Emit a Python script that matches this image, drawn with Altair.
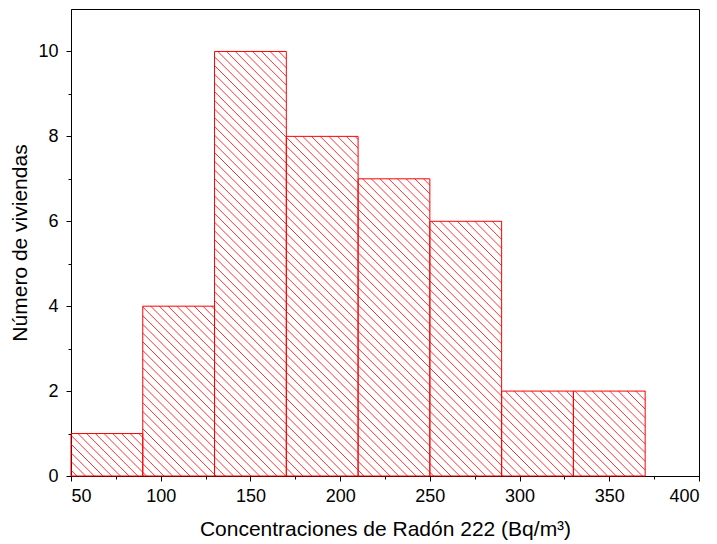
import math
import altair as alt
import pandas as pd

# ---- data ----
bin_start = [50, 90, 130, 170, 210, 250, 290, 330]
bin_end = [90, 130, 170, 210, 250, 290, 330, 370]
counts = [1, 4, 10, 8, 7, 6, 2, 2]

x_ticks = [50, 75, 100, 125, 150, 175, 200, 225, 250, 275, 300, 325, 350, 375, 400]
y_ticks = [0, 1, 2, 3, 4, 5, 6, 7, 8, 9, 10]

x_title = "Concentraciones de Radón 222 (Bq/m³)"
y_title = "Número de viviendas"

# ---- layout / style ----
W, H = 628, 467
XD = [50, 400]
YD = [0, 11]
HATCH_STEP = 8.7  # px between hatch lines (horizontal)
RED = "#ff0000"
FONT = "Liberation Sans"

bars = pd.DataFrame({"start": bin_start, "end": bin_end, "count": counts})


def to_px(x):
    return (x - XD[0]) / (XD[1] - XD[0]) * W


def to_py(y):
    return H - (y - YD[0]) / (YD[1] - YD[0]) * H


def from_px(p):
    return XD[0] + p / W * (XD[1] - XD[0])


def from_py(p):
    return YD[0] + (H - p) / H * (YD[1] - YD[0])


# hatch lines ("\" direction) clipped to each bar, built from the bar arrays
rows = []
for x0, x1, c in zip(bin_start, bin_end, counts):
    a0, a1 = to_px(x0), to_px(x1)
    t, b = to_py(c), H
    kmin = math.floor((a0 - b) / HATCH_STEP)
    kmax = math.ceil((a1 - t) / HATCH_STEP)
    for k in range(kmin, kmax + 1):
        cc = k * HATCH_STEP
        lo = max(t, a0 - cc)
        hi = min(b, a1 - cc)
        if hi - lo > 0.5:
            rows.append({
                "x": from_px(lo + cc), "y": from_py(lo),
                "x2": from_px(hi + cc), "y2": from_py(hi),
            })
hatch = pd.DataFrame(rows)

xs = alt.Scale(domain=XD, nice=False, zero=False)
ys = alt.Scale(domain=YD, nice=False, zero=False)

x_axis = alt.Axis(
    values=x_ticks, title=x_title, orient="bottom",
    tickSize={"condition": {"test": "datum.value % 50 === 0", "value": 5}, "value": 3},
    labelExpr="datum.value % 50 === 0 ? datum.label : ''",
    labelFontSize=18, titleFontSize=21, labelPadding=6, titlePadding=13, format="d",
)
y_axis = alt.Axis(
    values=y_ticks, title=y_title, orient="left",
    tickSize={"condition": {"test": "datum.value % 2 === 0", "value": 5}, "value": 3},
    labelExpr="datum.value % 2 === 0 ? datum.label : ''",
    labelFontSize=18, titleFontSize=21, labelPadding=8, titlePadding=7, format="d",
)

hatch_layer = alt.Chart(hatch).mark_rule(color=RED, strokeWidth=1, opacity=0.8).encode(
    x=alt.X("x:Q", scale=xs, axis=x_axis),
    y=alt.Y("y:Q", scale=ys, axis=y_axis),
    x2="x2:Q",
    y2="y2:Q",
)

bar_layer = alt.Chart(bars).mark_rect(fill=None, stroke=RED, strokeWidth=1).encode(
    x=alt.X("start:Q", scale=xs),
    x2="end:Q",
    y=alt.Y("count:Q", scale=ys),
    y2=alt.datum(0),
)

chart = alt.layer(hatch_layer, bar_layer).properties(
    width=W, height=H,
    padding={"left": 63, "top": 1, "right": 10, "bottom": 68},
    autosize=alt.AutoSizeParams(type="none"),
).configure_view(
    stroke="black", strokeWidth=1
).configure_axis(
    grid=False, domainColor="black", tickColor="black", labelColor="black",
    titleColor="black", labelFont=FONT, titleFont=FONT, titleFontWeight="normal",
    domainWidth=1, tickWidth=1,
)

chart.save("out.html", embed_options={"renderer": "svg", "actions": False})
